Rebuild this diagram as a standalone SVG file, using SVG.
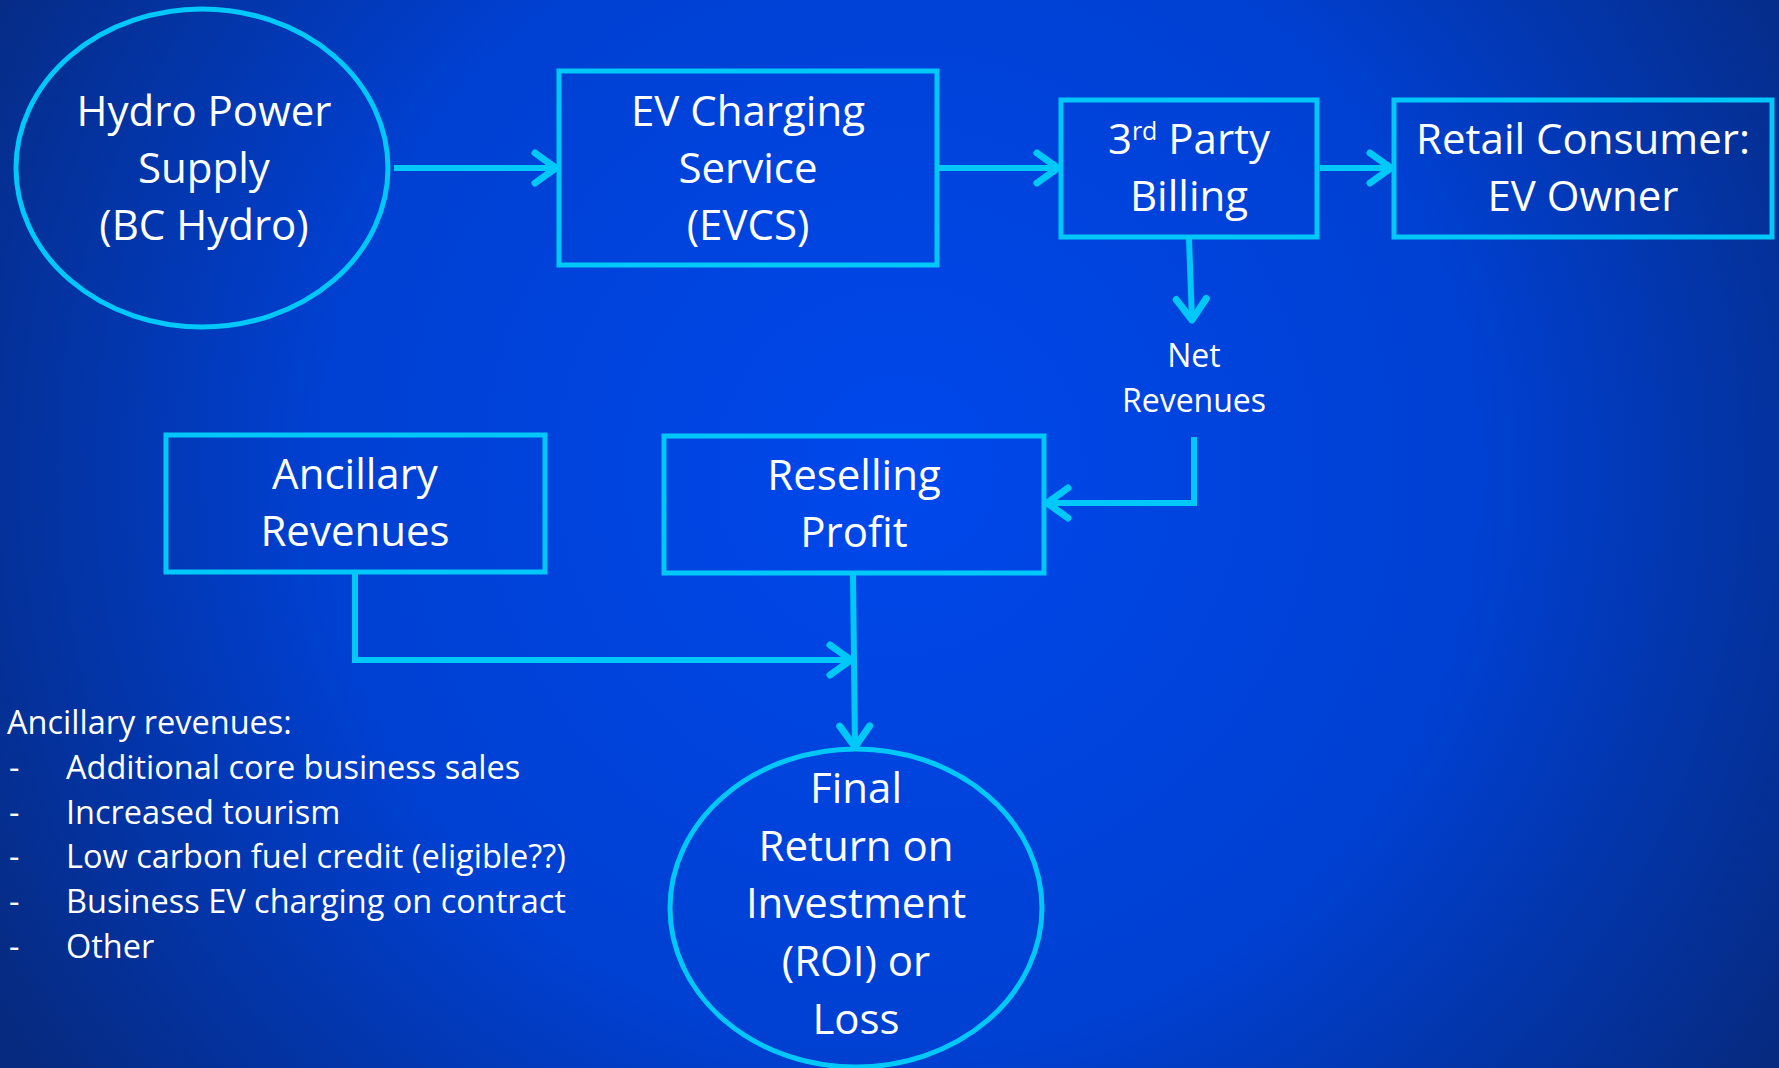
<svg xmlns="http://www.w3.org/2000/svg" width="1779" height="1068" viewBox="0 0 1779 1068">
<defs>
<radialGradient id="bg" cx="900" cy="470" r="1050" gradientUnits="userSpaceOnUse">
<stop offset="0" stop-color="#0048ec"/>
<stop offset="0.55" stop-color="#0040d2"/>
<stop offset="1" stop-color="#062a80"/>
</radialGradient>
<marker id="arr" markerUnits="userSpaceOnUse" markerWidth="44" markerHeight="44" refX="32" refY="22" orient="auto" viewBox="0 0 44 44">
<polyline points="11,7 32,22 11,37" fill="none" stroke="#00c8f8" stroke-width="7" stroke-linecap="round" stroke-linejoin="round"/>
</marker>
<style>
.box{fill:none;stroke:#00c8f8;stroke-width:5}
.con{fill:none;stroke:#00c8f8;stroke-width:6;marker-end:url(#arr)}
.t{font-family:"Open Sans","Noto Sans",sans-serif;fill:#ffffff;font-size:42px;text-anchor:middle}
.s{font-size:32px}
.l{font-family:"Open Sans","Noto Sans",sans-serif;fill:#ffffff;font-size:32.5px}
</style>
</defs>
<rect x="0" y="0" width="1779" height="1068" fill="url(#bg)"/>

<g id="connectors">
<line class="con" x1="394" y1="168" x2="556" y2="168"/>
<line class="con" x1="939" y1="168" x2="1058" y2="168"/>
<line class="con" x1="1320" y1="168" x2="1391" y2="168"/>
<line class="con" x1="1189" y1="238" x2="1192" y2="320"/>
<polyline class="con" points="1194,437 1194,503 1047,503"/>
<polyline class="con" points="355,573 355,660 851,660"/>
<line class="con" x1="853" y1="573" x2="855" y2="747"/>
</g>

<g id="hydro">
<ellipse class="box" cx="202" cy="168" rx="186" ry="159"/>
<text class="t"><tspan x="204" y="126">Hydro Power</tspan><tspan x="204" y="183">Supply</tspan><tspan x="204" y="240">(BC Hydro)</tspan></text>
</g>

<g id="evcs">
<rect class="box" x="559" y="71" width="378" height="194"/>
<text class="t"><tspan x="748" y="126">EV Charging</tspan><tspan x="748" y="183">Service</tspan><tspan x="748" y="240">(EVCS)</tspan></text>
</g>

<g id="billing">
<rect class="box" x="1061" y="100" width="256" height="137"/>
<text class="t"><tspan x="1189" y="154">3<tspan font-size="25" baseline-shift="14">rd</tspan> Party</tspan><tspan x="1189" y="211">Billing</tspan></text>
</g>

<g id="retail">
<rect class="box" x="1394" y="100" width="378" height="137"/>
<text class="t"><tspan x="1583" y="154">Retail Consumer:</tspan><tspan x="1583" y="211">EV Owner</tspan></text>
</g>

<g id="net-revenues">
<text class="t s"><tspan x="1194" y="367">Net</tspan><tspan x="1194" y="412">Revenues</tspan></text>
</g>

<g id="ancillary">
<rect class="box" x="166" y="435" width="379" height="137"/>
<text class="t"><tspan x="355" y="489">Ancillary</tspan><tspan x="355" y="546">Revenues</tspan></text>
</g>

<g id="reselling">
<rect class="box" x="664" y="436" width="380" height="137"/>
<text class="t"><tspan x="854" y="490">Reselling</tspan><tspan x="854" y="547">Profit</tspan></text>
</g>

<g id="final">
<ellipse class="box" cx="856" cy="908" rx="186" ry="159"/>
<text class="t"><tspan x="856" y="803">Final</tspan><tspan x="856" y="861">Return on</tspan><tspan x="856" y="918">Investment</tspan><tspan x="856" y="976">(ROI) or</tspan><tspan x="856" y="1034">Loss</tspan></text>
</g>

<g id="ancillary-list">
<text class="l" x="7" y="734">Ancillary revenues:</text>
<text class="l" x="9" y="779">-</text><text class="l" x="66" y="779">Additional core business sales</text>
<text class="l" x="9" y="824">-</text><text class="l" x="66" y="824">Increased tourism</text>
<text class="l" x="9" y="868">-</text><text class="l" x="66" y="868">Low carbon fuel credit (eligible??)</text>
<text class="l" x="9" y="913">-</text><text class="l" x="66" y="913">Business EV charging on contract</text>
<text class="l" x="9" y="958">-</text><text class="l" x="66" y="958">Other</text>
</g>
</svg>
